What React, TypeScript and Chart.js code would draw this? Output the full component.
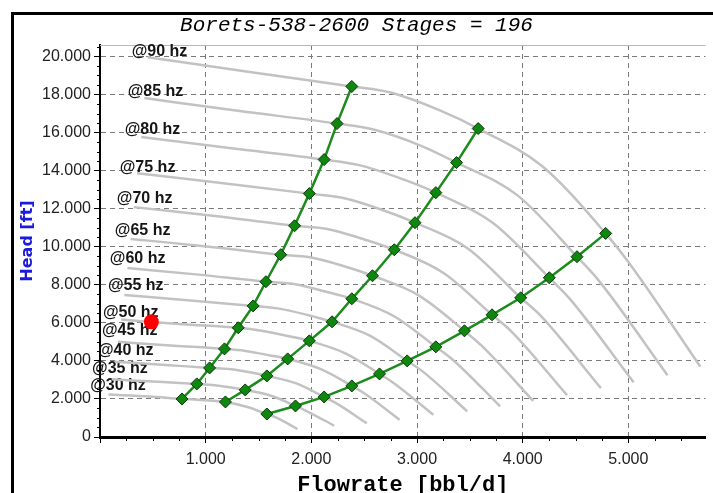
import React, { useEffect, useRef } from 'react';
import { Chart, registerables } from 'chart.js';

Chart.register(...registerables);

// ---- data ----
const frequencies = [30, 35, 40, 45, 50, 55, 60, 65, 70, 75, 80, 85, 90];

// speed curves (flow bbl/d, head ft)
const q30 = [80, 470, 776, 920, 1070, 1187, 1395, 1579, 1670, 1869];
const h30 = [2230, 2130, 2000, 1960, 1900, 1842, 1580, 1210, 1020, 421];
const q35 = [110, 545, 916, 1070, 1245, 1374, 1626, 1850, 1945, 2215];
const h35 = [3030, 2905, 2790, 2735, 2600, 2474, 2155, 1632, 1390, 600];
const q40 = [140, 620, 1037, 1220, 1420, 1579, 1858, 2121, 2222, 2525];
const h40 = [3950, 3790, 3630, 3570, 3400, 3210, 2815, 2105, 1817, 720];
const q45 = [170, 700, 1178, 1375, 1600, 1776, 2090, 2383, 2500, 2835];
const h45 = [5000, 4800, 4630, 4525, 4300, 4105, 3563, 2684, 2300, 910];
const q50 = [200, 778, 1308, 1528, 1778, 1981, 2322, 2645, 2778, 3155];
const h50 = [6170, 5926, 5740, 5586, 5309, 5053, 4398, 3316, 2840, 1170];
const q55 = [230, 856, 1449, 1681, 1956, 2196, 2554, 2907, 3056, 3475];
const h55 = [7460, 7171, 6890, 6760, 6424, 6053, 5322, 4000, 3436, 1350];
const q60 = [260, 933, 1570, 1833, 2133, 2383, 2787, 3178, 3333, 3786];
const h60 = [8880, 8533, 8160, 8044, 7644, 7263, 6333, 4737, 4089, 1610];
const q65 = [290, 1011, 1710, 1986, 2311, 2579, 3019, 3449, 3611, 4100];
const h65 = [10410, 10015, 9580, 9441, 8972, 8474, 7433, 5579, 4799, 1900];
const q70 = [320, 1089, 1841, 2139, 2489, 2785, 3251, 3710, 3889, 4420];
const h70 = [12080, 11614, 11100, 10949, 10405, 9842, 8620, 6421, 5565, 2200];
const q75 = [350, 1167, 1981, 2292, 2667, 2981, 3483, 3981, 4167, 4740];
const h75 = [13860, 13333, 12790, 12569, 11944, 11263, 9896, 7316, 6389, 2570];
const q80 = [390, 1244, 2121, 2444, 2844, 3178, 3716, 4252, 4444, 5050];
const h80 = [15770, 15170, 14580, 14301, 13590, 12842, 11259, 8368, 7269, 2880];
const q85 = [420, 1322, 2243, 2597, 3022, 3374, 3948, 4514, 4722, 5370];
const h85 = [17810, 17127, 16470, 16145, 15342, 14421, 12711, 9474, 8206, 3250];
const q90 = [450, 1400, 2383, 2750, 3200, 3579, 4180, 4785, 5000, 5682];
const h90 = [19960, 19200, 18420, 18100, 17200, 16210, 14250, 10700, 9200, 3700];

const curveFlows = [q30, q35, q40, q45, q50, q55, q60, q65, q70, q75, q80, q85, q90];
const curveHeads = [h30, h35, h40, h45, h50, h55, h60, h65, h70, h75, h80, h85, h90];

// operating range lines (min, BEP, max)
const minFlowQ = [776, 916, 1037, 1178, 1308, 1449, 1570, 1710, 1841, 1981, 2121, 2243, 2383];
const minFlowH = [2000, 2790, 3630, 4630, 5740, 6890, 8160, 9580, 11100, 12790, 14580, 16470, 18420];
const bepQ = [1187, 1374, 1579, 1776, 1981, 2196, 2383, 2579, 2785, 2981, 3178, 3374, 3579];
const bepH = [1842, 2474, 3210, 4105, 5053, 6053, 7263, 8474, 9842, 11263, 12842, 14421, 16210];
const maxFlowQ = [1579, 1850, 2121, 2383, 2645, 2907, 3178, 3449, 3710, 3981, 4252, 4514, 4785];
const maxFlowH = [1210, 1632, 2105, 2684, 3316, 4000, 4737, 5579, 6421, 7316, 8368, 9474, 10700];

// label anchors (flow, head) for the "@xx hz" texts
const labelQ = [-93, -75, -19, 19, 28, 75, 93, 140, 159, 187, 234, 262, 300];
const labelH = [2470, 3370, 4320, 5370, 6320, 7740, 9160, 10630, 12300, 13950, 15900, 17900, 20000];

const operatingQ = [486];
const operatingH = [6050];

const xTickValues = [0, 1000, 2000, 3000, 4000, 5000];
const yTickValues = [0, 2000, 4000, 6000, 8000, 10000, 12000, 14000, 16000, 18000, 20000];

const titleText = 'Borets-538-2600 Stages = 196';
const xTitle = 'Flowrate [bbl/d]';
const yTitle = 'Head [ft]';

const xMin = 0;
const xMax = 5730;
const yMin = 0;
const yMax = 20600;

const fmt = (v: number) => (v === 0 ? '0' : (v / 1000).toFixed(3));

const toPts = (qs: number[], hs: number[]) => qs.map((q, i) => ({ x: q, y: hs[i] }));

const decor = {
  id: 'decor',
  beforeDraw(chart: any) {
    const { ctx, width, height } = chart;
    ctx.save();
    ctx.fillStyle = '#ffffff';
    ctx.fillRect(0, 0, width, height);
    ctx.strokeStyle = '#000';
    ctx.lineWidth = 3;
    ctx.beginPath();
    ctx.moveTo(12.5, height + 5);
    ctx.lineTo(12.5, 13.5);
    ctx.lineTo(width + 5, 13.5);
    ctx.stroke();
    ctx.restore();
  },
  beforeDatasetsDraw(chart: any) {
    const { ctx, chartArea, scales } = chart;
    const x = scales.x;
    const y = scales.y;
    ctx.save();
    ctx.strokeStyle = '#b8b8b8';
    ctx.lineWidth = 1;
    ctx.beginPath();
    ctx.moveTo(chartArea.left, chartArea.top + 0.5);
    ctx.lineTo(chartArea.right, chartArea.top + 0.5);
    ctx.stroke();
    ctx.font = 'bold 16px "Liberation Sans", Arial, sans-serif';
    ctx.fillStyle = '#151515';
    ctx.textAlign = 'left';
    ctx.textBaseline = 'alphabetic';
    frequencies.forEach((f, i) => {
      ctx.fillText('@' + f + ' hz', x.getPixelForValue(labelQ[i]), y.getPixelForValue(labelH[i]));
    });
    ctx.restore();
  },
  afterDraw(chart: any) {
    const { ctx, chartArea, scales, width } = chart;
    const x = scales.x;
    const y = scales.y;
    ctx.save();
    // minor ticks
    ctx.strokeStyle = '#000';
    ctx.lineWidth = 1;
    ctx.beginPath();
    for (let v = 250; v <= xMax; v += 250) {
      if (v % 1000 === 0) continue;
      const px = Math.round(x.getPixelForValue(v)) + 0.5;
      ctx.moveTo(px, chartArea.bottom);
      ctx.lineTo(px, chartArea.bottom + 4);
    }
    for (let v = 500; v <= 20500; v += 500) {
      if (v % 2000 === 0) continue;
      const py = Math.round(y.getPixelForValue(v)) + 0.5;
      ctx.moveTo(chartArea.left - 3, py);
      ctx.lineTo(chartArea.left, py);
    }
    ctx.stroke();

    // chart title
    ctx.fillStyle = '#000';
    ctx.textAlign = 'center';
    ctx.textBaseline = 'alphabetic';
    ctx.font = 'italic 21px "Liberation Mono", "DejaVu Sans Mono", monospace';
    ctx.fillText(titleText, width / 2, 31);

    // x title
    ctx.font = 'bold 22px "Liberation Mono", "DejaVu Sans Mono", monospace';
    ctx.fillText(xTitle, (chartArea.left + chartArea.right) / 2, 491);

    // y title
    ctx.save();
    ctx.translate(28, (chartArea.top + chartArea.bottom) / 2);
    ctx.rotate(-Math.PI / 2);
    ctx.font = 'bold 16px "DejaVu Sans", sans-serif';
    ctx.fillStyle = '#1a1ae0';
    ctx.textBaseline = 'middle';
    ctx.fillText(yTitle, 0, 0);
    ctx.restore();

    ctx.restore();
  },
};

export default function App() {
  const ref = useRef<HTMLCanvasElement | null>(null);

  useEffect(() => {
    document.body.style.margin = '0';
    const canvas = ref.current;
    if (!canvas) return;

    const greyDatasets = curveFlows.map((qs, i) => ({
      label: frequencies[i] + ' hz',
      data: toPts(qs, curveHeads[i]),
      borderColor: '#c2c2c2',
      borderWidth: 2.5,
      pointRadius: 0,
      cubicInterpolationMode: 'monotone' as const,
      fill: false,
      order: 3,
    }));

    const greenStyle = {
      borderColor: '#1b8c1b',
      borderWidth: 2.5,
      tension: 0,
      pointStyle: 'rectRot' as const,
      pointRadius: 6,
      pointBackgroundColor: '#0f870f',
      pointBorderColor: '#093a09',
      pointBorderWidth: 1,
      fill: false,
      order: 2,
    };

    const chart = new Chart(canvas, {
      type: 'line',
      data: {
        datasets: [
          {
            label: 'operating point',
            data: toPts(operatingQ, operatingH),
            showLine: false,
            pointRadius: 7.5,
            pointBackgroundColor: '#ff0000',
            pointBorderColor: '#ff0000',
            pointBorderWidth: 0,
            order: 1,
          },
          { label: 'min', data: toPts(minFlowQ, minFlowH), ...greenStyle },
          { label: 'bep', data: toPts(bepQ, bepH), ...greenStyle },
          { label: 'max', data: toPts(maxFlowQ, maxFlowH), ...greenStyle },
          ...greyDatasets,
        ] as any,
      },
      options: {
        animation: false,
        responsive: false,
        devicePixelRatio: 1,
        layout: { padding: { top: 45, left: 0, right: 0, bottom: 0 } },
        plugins: {
          legend: { display: false },
          tooltip: { enabled: false },
          title: { display: false },
        },
        scales: {
          x: {
            type: 'linear',
            position: 'bottom',
            min: xMin,
            max: xMax,
            afterBuildTicks: (s: any) => {
              s.ticks = xTickValues.map((v) => ({ value: v }));
            },
            afterFit: (s: any) => {
              s.height = 56;
            },
            ticks: {
              autoSkip: false,
              maxRotation: 0,
              padding: 7,
              color: '#222',
              font: { family: '"Liberation Sans", Arial, sans-serif', size: 16 },
              callback: (v: any) => (Number(v) === 0 ? '' : fmt(Number(v))),
            },
            grid: {
              color: (c: any) => (c.tick && c.tick.value === 0 ? 'rgba(0,0,0,0)' : '#7a7a7a'),
              lineWidth: 1,
              tickLength: 6,
              tickColor: '#000',
            },
            border: { display: true, color: '#000', width: 3, dash: [5, 4] },
          },
          y: {
            type: 'linear',
            min: yMin,
            max: yMax,
            afterBuildTicks: (s: any) => {
              s.ticks = yTickValues.map((v) => ({ value: v }));
            },
            afterFit: (s: any) => {
              s.width = 100;
            },
            ticks: {
              autoSkip: false,
              padding: 3,
              color: '#222',
              font: { family: '"Liberation Sans", Arial, sans-serif', size: 16 },
              callback: (v: any) => fmt(Number(v)),
            },
            grid: {
              color: (c: any) => (c.tick && c.tick.value === 0 ? 'rgba(0,0,0,0)' : '#7a7a7a'),
              lineWidth: 1,
              tickLength: 6,
              tickColor: '#000',
            },
            border: { display: true, color: '#000', width: 2, dash: [5, 4] },
          },
        },
      } as any,
      plugins: [decor],
    });

    return () => {
      chart.destroy();
    };
  }, []);

  return (
    <div style={{ width: 713, height: 493, position: 'relative' }}>
      <canvas ref={ref} width={713} height={493} style={{ display: 'block', width: 713, height: 493 }} />
    </div>
  );
}
